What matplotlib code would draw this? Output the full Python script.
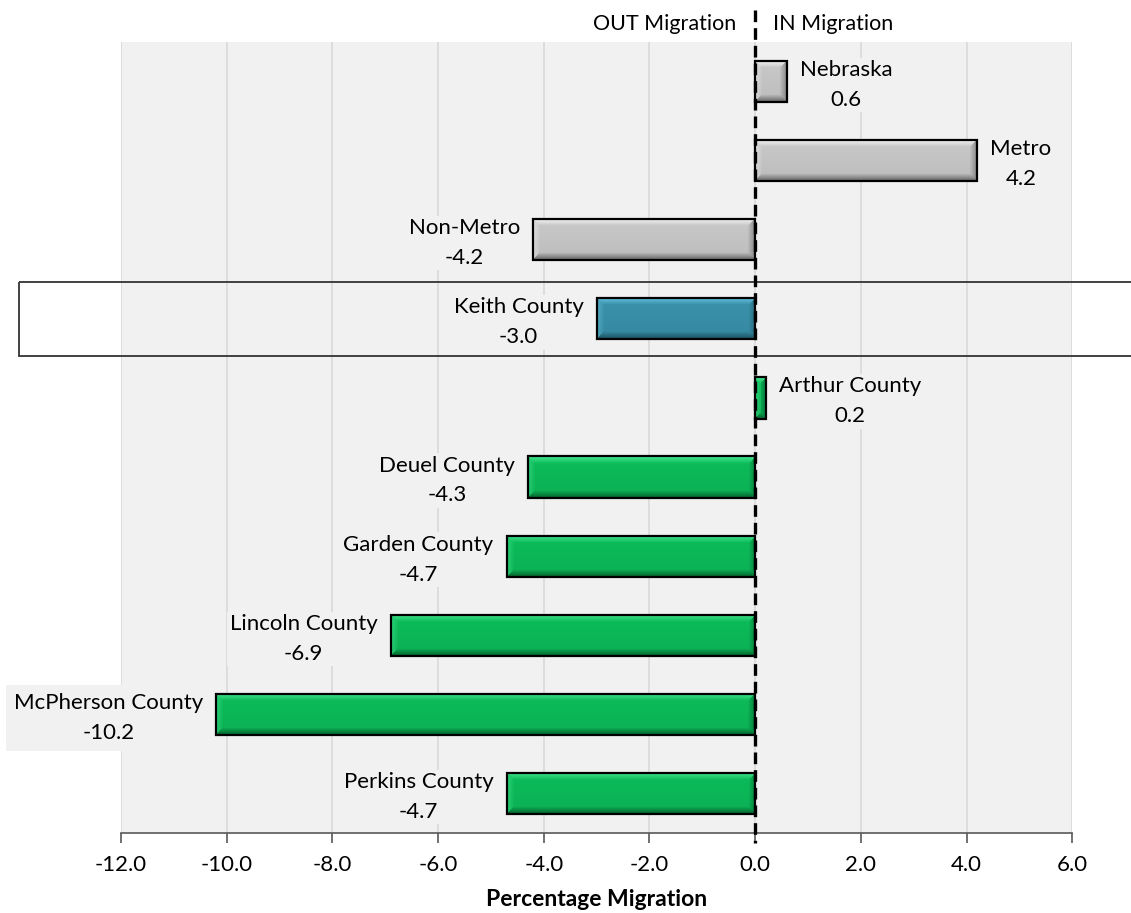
import numpy as np
import matplotlib
matplotlib.use('Agg')
import matplotlib.pyplot as plt
from matplotlib.colors import to_rgb
from matplotlib.patches import Rectangle
import matplotlib.transforms as mtransforms

plt.rcParams['font.family'] = ['Lato', 'DejaVu Sans']

names = ['Nebraska', 'Metro', 'Non-Metro', 'Keith County', 'Arthur County',
         'Deuel County', 'Garden County', 'Lincoln County', 'McPherson County',
         'Perkins County']
values = [0.6, 4.2, -4.2, -3.0, 0.2, -4.3, -4.7, -6.9, -10.2, -4.7]
groups = ['state', 'state', 'state', 'focus', 'county', 'county', 'county',
          'county', 'county', 'county']
xticks = [-12, -10, -8, -6, -4, -2, 0, 2, 4, 6]

# base, highlight, shadow
palette = {
    'state': ('#c9c9c9', '#ffffff', '#6e6e6e'),
    'focus': ('#3a91ab', '#6fd0ea', '#1f5868'),
    'county': ('#0cbc5a', '#4ff09a', '#056a30'),
}


def bevel(ax, patch, base, light, dark, bw=7):
    # pixel image with mitred edges, clipped to the bar, to mimic the bevel
    x0, w = patch.get_x(), patch.get_width()
    y0, h = patch.get_y(), patch.get_height()
    xl, xr = min(x0, x0 + w), max(x0, x0 + w)
    p0 = ax.transData.transform((xl, y0))
    p1 = ax.transData.transform((xr, y0 + h))
    W = max(int(round(abs(p1[0] - p0[0]))), 2)
    H = max(int(round(abs(p1[1] - p0[1]))), 2)
    b, l, d = np.array(to_rgb(base)), np.array(to_rgb(light)), np.array(to_rgb(dark))
    r = np.arange(H)[:, None] * np.ones((1, W))
    c = np.ones((H, 1)) * np.arange(W)[None, :]
    dist = np.stack([r, H - 1 - r, c, W - 1 - c])
    which = dist.argmin(axis=0)
    m = dist.min(axis=0)
    k = np.clip(1 - m / bw, 0, 1)[..., None]
    edge_col = np.stack([l * 0.85 + b * 0.15, d, b * 0.55 + l * 0.45, b * 0.35 + d * 0.65])
    img = b * (1 - k) + edge_col[which] * k
    img = img * (1 - 0.06 * (r / H)[..., None])
    img = np.clip(img, 0, 1)
    im = ax.imshow(img, extent=[xl, xr, y0 + h, y0], origin='upper',
                   aspect='auto', zorder=3, interpolation='bilinear')
    im.set_clip_path(patch)


fig = plt.figure(figsize=(11.31, 9.13), dpi=100)
ax = fig.add_axes([0.107, 0.0876, 0.841, 0.8664])
ax.set_facecolor('#f1f1f1')
ax.set_xlim(-12, 6)
ax.set_ylim(len(names) - 0.5, -0.5)

y = np.arange(len(names))
bars = ax.barh(y, values, height=0.52, color='none',
               edgecolor='black', linewidth=1.6, zorder=4)
for p, g in zip(bars, groups):
    base, light, dark = palette[g]
    bg = Rectangle((p.get_x(), p.get_y()), p.get_width(), p.get_height(),
                   facecolor=base, edgecolor='none', zorder=2)
    ax.add_patch(bg)
    bevel(ax, bg, base, light, dark)

ax.set_xlim(-12, 6)
ax.set_ylim(len(names) - 0.5, -0.5)
ax.set_xticks(xticks)
ax.set_xticklabels(['%.1f' % t for t in xticks], fontsize=16)
ax.set_yticks([])
ax.grid(axis='x', color='#d9d9d9', linewidth=1.2, zorder=0)
ax.set_axisbelow(True)
for s in ['top', 'left', 'right']:
    ax.spines[s].set_visible(False)
ax.spines['bottom'].set_color('#595959')
ax.spines['bottom'].set_linewidth(1.2)
ax.tick_params(axis='x', length=7, width=1.2, color='#595959', pad=9)
ax.set_xlabel('Percentage Migration', fontsize=16.5, fontweight='bold', labelpad=10)

# zero line, dashed, running above the plot area
ax.plot([0, 0], [-0.9, len(names) - 0.37], color='black', linewidth=2.4,
        linestyle=(0, (3.5, 1.8)), clip_on=False, zorder=6)

ax.text(-0.35, -0.73, 'OUT Migration', ha='right', va='center', fontsize=15.5)
ax.text(0.33, -0.73, 'IN Migration', ha='left', va='center', fontsize=15.5)

for i, (nm, v) in enumerate(zip(names, values)):
    txt = '%s\n%.1f' % (nm, v)
    if v >= 0:
        off, ha = 9.5, 'left'
    else:
        off, ha = -9.5, 'right'
    pad = 0.35 if nm == 'McPherson County' else 0.1
    ax.annotate(txt, xy=(v, i), xytext=(off, -2.5), textcoords='offset points',
                ha=ha, va='center', multialignment='center', fontsize=16,
                linespacing=1.62, annotation_clip=False, zorder=7,
                bbox=dict(boxstyle='square,pad=%s' % pad, facecolor='#f1f1f1',
                          edgecolor='none'))

# outline around the Keith County row
trans = mtransforms.blended_transform_factory(fig.transFigure, ax.transData)
ax.add_patch(Rectangle((0.017, 3 - 0.47), 1.2, 0.94, transform=trans,
                       facecolor='none', edgecolor='#333333', linewidth=1.3,
                       clip_on=False, zorder=5))

plt.savefig('out.png', dpi=100)
